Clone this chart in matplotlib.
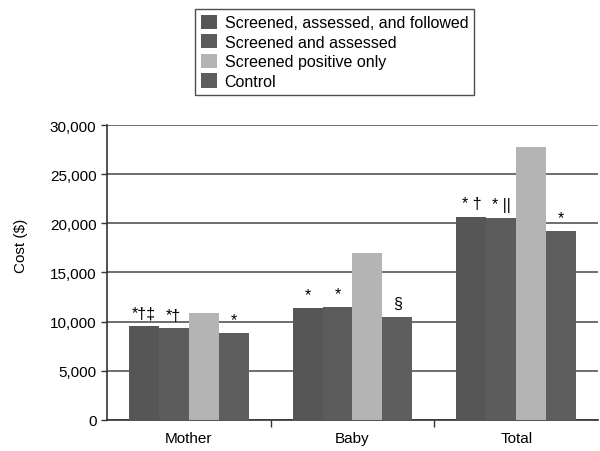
import matplotlib

matplotlib.use("Agg")
import matplotlib.pyplot as plt
import numpy as np

plt.rcParams["font.family"] = ["Liberation Sans", "DejaVu Sans"]

categories = ["Mother", "Baby", "Total"]
series = [
    "Screened, assessed, and followed",
    "Screened and assessed",
    "Screened positive only",
    "Control",
]
followed = [9500, 11350, 20650]
assessed = [9300, 11450, 20550]
positive_only = [10900, 17000, 27800]
control = [8800, 10480, 19170]
# significance marks per series, one per category
marks = [
    ["*\u2020\u2021", "*", "* \u2020"],
    ["*\u2020", "*", "* ||"],
    ["", "", ""],
    ["*", "\u00a7", "*"],
]
colors = ["#565656", "#5c5c5c", "#b4b4b4", "#5e5e5e"]

fig = plt.figure(figsize=(6, 4.52), dpi=100)
ax = fig.add_axes([0.178, 0.069, 0.819, 0.652])

x = np.arange(len(categories))
width = 0.183
values = [followed, assessed, positive_only, control]
for i, (vals, color, label) in enumerate(zip(values, colors, series)):
    pos = x + (i - 1.5) * width
    ax.bar(pos, vals, width, color=color, label=label, zorder=3)
    for px, v, m in zip(pos, vals, marks[i]):
        if m:
            ax.text(px, v + 600, m, ha="center", va="bottom", fontsize=11.5, zorder=4)

ax.set_xlim(-0.5, 2.5)
ax.set_ylim(0, 30000)
ax.set_yticks(range(0, 30001, 5000))
ax.set_yticklabels([f"{v:,}" for v in range(0, 30001, 5000)], fontsize=11)
ax.set_xticks(x)
ax.set_xticklabels(categories, fontsize=11)
ax.set_xticks([0.5, 1.5], minor=True)
ax.tick_params(axis="x", which="major", length=0, pad=8)
ax.tick_params(axis="x", which="minor", length=5, width=1, color="#333333")
ax.tick_params(axis="y", length=4, width=1, color="#333333")
ax.yaxis.grid(True, color="#555555", linewidth=1.2, zorder=0)
for side in ["top", "right"]:
    ax.spines[side].set_visible(False)
for side in ["left", "bottom"]:
    ax.spines[side].set_color("#333333")
    ax.spines[side].set_linewidth(1.2)

fig.text(0.035, 0.455, "Cost ($)", rotation=90, ha="center", va="center", fontsize=11)

handles, labels = ax.get_legend_handles_labels()
leg = fig.legend(
    handles,
    labels,
    loc="upper left",
    bbox_to_anchor=(0.325, 0.978),
    borderaxespad=0,
    fontsize=11.5,
    frameon=True,
    fancybox=False,
    edgecolor="#222222",
    handlelength=1.0,
    handleheight=1.0,
    handletextpad=0.5,
    labelspacing=0.25,
    borderpad=0.35,
)
leg.get_frame().set_linewidth(1.0)

fig.savefig("out.png", dpi=100)
